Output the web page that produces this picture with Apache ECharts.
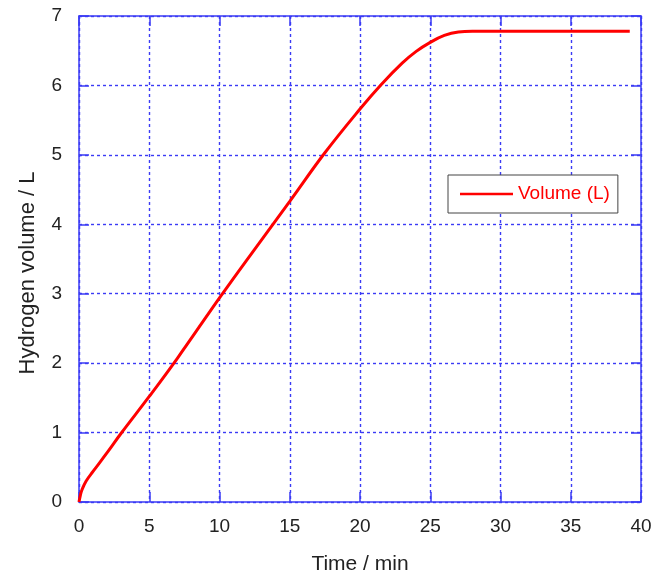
<!DOCTYPE html>
<html>
<head>
<meta charset="utf-8">
<title>Hydrogen volume</title>
<script src="https://cdn.jsdelivr.net/npm/echarts@6/dist/echarts.min.js"></script>
<style>
html, body { margin: 0; padding: 0; background: #fff; }
#lineChart { width: 662px; height: 572px; }
</style>
</head>
<body>
<div id="lineChart"></div>
<script>
// data
var timeMin = [0, 0.1, 0.2, 0.5, 1, 2, 3, 5, 7, 10, 12.5, 15, 17.5, 20, 21.5, 23, 24, 25, 26, 27, 28, 30, 35, 39.2];
var volumeL = [0, 0.1, 0.17, 0.3, 0.44, 0.71, 0.99, 1.52, 2.07, 2.94, 3.64, 4.33, 5.03, 5.66, 6.01, 6.32, 6.49, 6.62, 6.72, 6.77, 6.78, 6.78, 6.78, 6.78];
var xTicks = [0, 5, 10, 15, 20, 25, 30, 35, 40];
var yTicks = [0, 1, 2, 3, 4, 5, 6, 7];

var axisBlue = '#3b3bf5';
var font = 'Liberation Sans, Arial, sans-serif';

var points = [];
for (var i = 0; i < timeMin.length; i++) {
    points.push([timeMin[i], volumeL[i]]);
}

// shared axis look: blue frame, inward ticks
function baseAxis(pos, ticks, showLabel, showGrid) {
    return {
        type: 'value',
        position: pos,
        min: ticks[0],
        max: ticks[ticks.length - 1],
        interval: ticks[1] - ticks[0],
        axisLine: { show: true, onZero: false, lineStyle: { color: axisBlue, width: 1.5 } },
        axisTick: { show: true, inside: true, length: 10, lineStyle: { color: axisBlue, width: 1.5 } },
        axisLabel: { show: showLabel, color: '#222', fontSize: 19, fontFamily: font, margin: 14 },
        splitLine: { show: showGrid, lineStyle: { color: axisBlue, width: 1.4, type: [3, 3] } }
    };
}

var chart = echarts.init(document.getElementById('lineChart'));

var xBottom = baseAxis('bottom', xTicks, true, true);
xBottom.name = 'Time / min';
xBottom.nameLocation = 'middle';
xBottom.nameGap = 52;
xBottom.nameTextStyle = { color: '#222', fontSize: 21, fontFamily: font };
xBottom.axisLabel.margin = 15;

var yLeft = baseAxis('left', yTicks, true, true);
yLeft.name = 'Hydrogen volume / L';
yLeft.nameLocation = 'middle';
yLeft.nameGap = 40;
yLeft.nameTextStyle = { color: '#222', fontSize: 22, fontFamily: font, padding: [0, 0, 0, -28] };
yLeft.axisLabel.margin = 17;

var option = {
    backgroundColor: '#fff',
    animation: false,
    grid: { left: 79, right: 21, top: 16, bottom: 70, outerBoundsMode: 'none' },
    legend: {
        left: 448,
        top: 175,
        orient: 'vertical',
        padding: [9, 8, 9, 12],
        borderColor: '#444',
        borderWidth: 1,
        backgroundColor: '#fff',
        icon: 'rect',
        itemWidth: 53,
        itemHeight: 2.5,
        textStyle: { color: '#ff0000', fontSize: 19, fontFamily: font, lineHeight: 20 },
        data: ['Volume (L)']
    },
    xAxis: [xBottom, baseAxis('top', xTicks, false, false)],
    yAxis: [yLeft, baseAxis('right', yTicks, false, false)],
    series: [
        {
            name: 'Volume (L)',
            type: 'line',
            xAxisIndex: 0,
            yAxisIndex: 0,
            symbol: 'none',
            smooth: 0.4,
            lineStyle: { color: '#ff0000', width: 3 },
            itemStyle: { color: '#ff0000' },
            data: points
        }
    ]
};
chart.setOption(option);
</script>
</body>
</html>
